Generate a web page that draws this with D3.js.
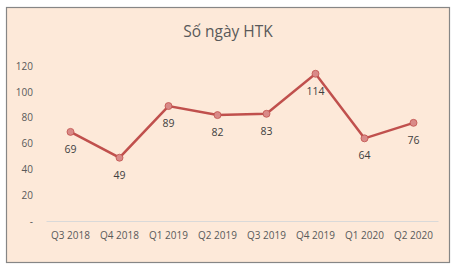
<!DOCTYPE html>
<html>
<head>
<meta charset="utf-8">
<script src="https://cdn.jsdelivr.net/npm/d3@7"></script>
<style>
  body { margin: 0; background: #fff; }
  text { font-family: "Open Sans", "Liberation Sans", sans-serif; fill: #595959; }
</style>
</head>
<body>
<div id="chart"></div>
<script>
var categories = ["Q3 2018", "Q4 2018", "Q1 2019", "Q2 2019", "Q3 2019", "Q4 2019", "Q1 2020", "Q2 2020"];
var values = [69, 49, 89, 82, 83, 114, 64, 76];
var yTicks = [0, 20, 40, 60, 80, 100, 120];

var width = 457, height = 270;

var svg = d3.select("#chart").append("svg")
    .attr("width", width)
    .attr("height", height);

svg.append("rect")
    .attr("x", 6.5).attr("y", 7.5)
    .attr("width", 443).attr("height", 255)
    .attr("fill", "#fde9d9")
    .attr("stroke", "#868686")
    .attr("stroke-width", 1.2);

svg.append("text")
    .attr("x", 228).attr("y", 37)
    .attr("text-anchor", "middle")
    .attr("font-size", 15.5)
    .text("Số ngày HTK");

var x = d3.scaleBand().domain(categories).range([46, 438]);
var y = d3.scaleLinear().domain([0, 120]).range([221, 66]);

var yAxis = d3.axisLeft(y).tickValues(yTicks).tickSize(0).tickPadding(0)
    .tickFormat(function(d) { return d === 0 ? "-" : d; });
var gy = svg.append("g").attr("transform", "translate(33,0)").call(yAxis);
gy.select(".domain").remove();
gy.selectAll("text").attr("font-size", 10).attr("fill", "#595959");

var xAxis = d3.axisBottom(x).tickSize(0).tickPadding(11);
var gx = svg.append("g").attr("transform", "translate(0,221)").call(xAxis);
gx.select(".domain").attr("stroke", "#d9d9d9");
gx.selectAll("text").attr("font-size", 10).attr("fill", "#595959");

var line = d3.line()
    .x(function(d, i) { return x(categories[i]) + x.bandwidth() / 2; })
    .y(function(d) { return y(d); });

svg.append("path")
    .datum(values)
    .attr("d", line)
    .attr("fill", "none")
    .attr("stroke", "#c0504d")
    .attr("stroke-width", 2.5);

svg.selectAll("circle.pt").data(values).enter()
    .append("circle")
    .attr("class", "pt")
    .attr("cx", function(d, i) { return x(categories[i]) + x.bandwidth() / 2; })
    .attr("cy", function(d) { return y(d); })
    .attr("r", 3.5)
    .attr("fill", "#d98a88")
    .attr("stroke", "#c0504d")
    .attr("stroke-width", 0.8);

svg.selectAll("text.lbl").data(values).enter()
    .append("text")
    .attr("class", "lbl")
    .attr("x", function(d, i) { return x(categories[i]) + x.bandwidth() / 2; })
    .attr("y", function(d) { return y(d) + 21; })
    .attr("text-anchor", "middle")
    .attr("font-size", 10.5)
    .style("fill", "#404040")
    .text(function(d) { return d; });
</script>
</body>
</html>
